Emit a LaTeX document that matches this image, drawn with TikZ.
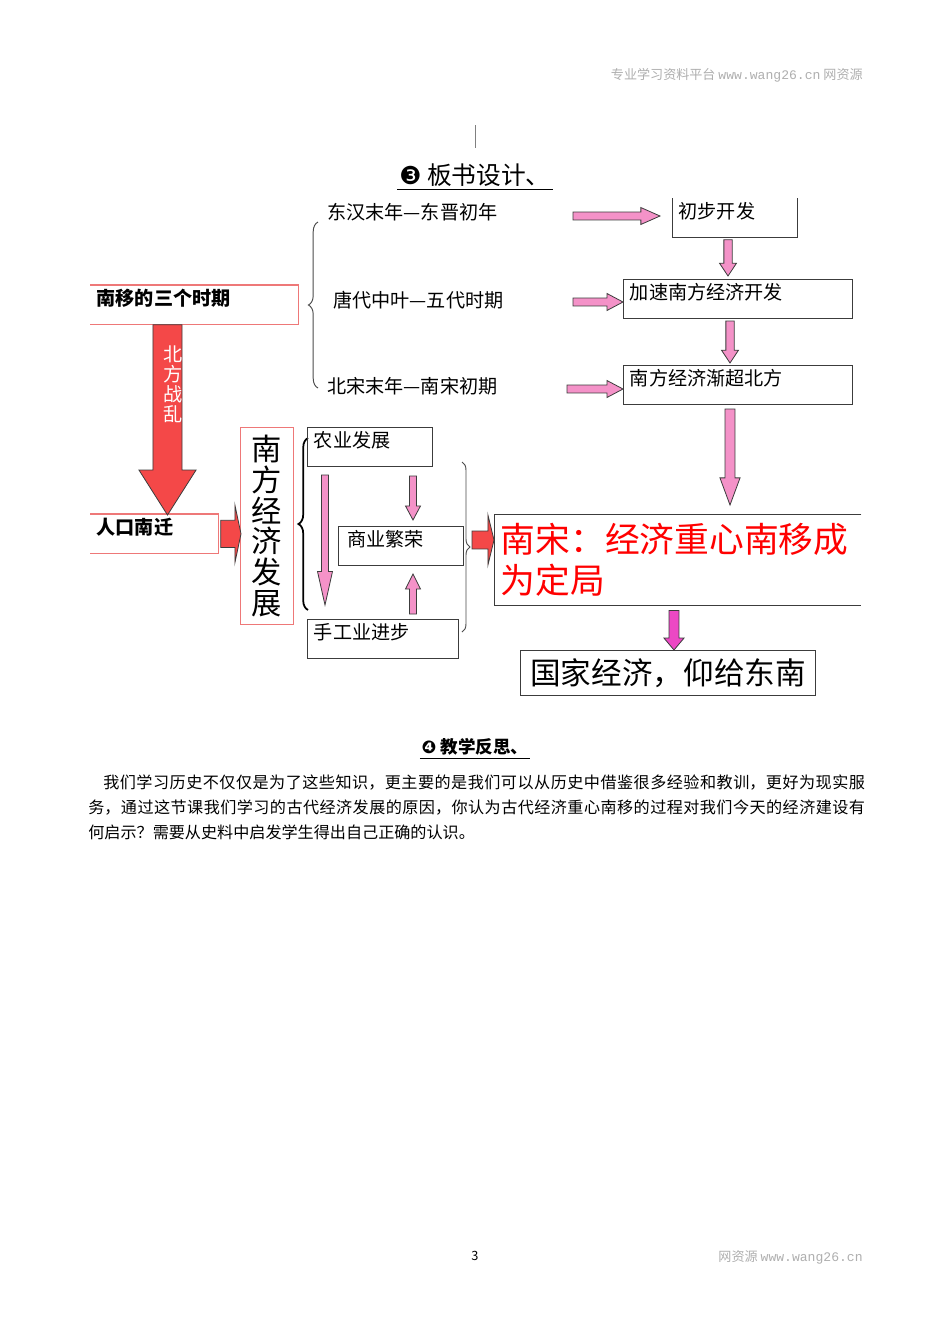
\documentclass[tikz,border=0pt]{standalone}
\usepackage{fontspec}
\setmainfont{Noto Sans CJK SC}
\setmonofont{Liberation Mono}
\newfontfamily\dingfont{DejaVu Sans}
\usetikzlibrary{calc,decorations.pathreplacing}
\XeTeXlinebreaklocale "zh"
\XeTeXlinebreakskip=0pt plus 1pt

\definecolor{pinkfill}{RGB}{244,146,200}
\definecolor{magfill}{RGB}{236,72,196}
\definecolor{redfill}{RGB}{244,72,72}
\definecolor{boxred}{RGB}{238,120,120}
\definecolor{edge}{RGB}{60,60,60}
\definecolor{wmark}{RGB}{175,175,175}

\tikzset{
  blockarrow/.style n args={3}{draw=edge, line width=0.5pt, line join=miter,
    to path={($(\tikztostart)!#1!90:(\tikztotarget)$)
      -- ($(\tikztotarget)!#3!(\tikztostart)!#1!90:(\tikztotarget)$)
      -- ($(\tikztotarget)!#3!(\tikztostart)!#2!90:(\tikztotarget)$)
      -- (\tikztotarget)
      -- ($(\tikztotarget)!#3!(\tikztostart)!#2!-90:(\tikztotarget)$)
      -- ($(\tikztotarget)!#3!(\tikztostart)!#1!-90:(\tikztotarget)$)
      -- ($(\tikztostart)!#1!-90:(\tikztotarget)$) -- cycle}},
  pinkarrow/.style n args={3}{blockarrow={#1}{#2}{#3}, fill=pinkfill},
  magarrow/.style n args={3}{blockarrow={#1}{#2}{#3}, fill=magfill},
  redarrow/.style n args={3}{blockarrow={#1}{#2}{#3}, fill=redfill},
  openbox/.style={anchor=north west, inner xsep=4pt, inner ysep=0pt,
    text height=12.5pt, text depth=12pt, align=left, font=\fontsize{12}{14}\selectfont},
  box/.style={openbox, draw=edge, line width=0.6pt},
  boldbox/.style={openbox, font=\fontsize{12}{14}\selectfont\bfseries},
  period/.style={anchor=west, inner sep=0pt, font=\fontsize{12}{14}\selectfont},
  boxline/.style={draw=edge, line width=0.6pt},
  redline/.style={draw=boxred, line width=0.7pt},
  bracestyle/.style={decorate, decoration={brace, amplitude=#1}},
  wm/.style={anchor=east, inner sep=0pt, text=wmark, font=\fontsize{8.2}{10}\selectfont}
}

\begin{document}
\begin{tikzpicture}[x=0.627pt, y=-0.627pt]
\fill[white] (0,0) rectangle (950,1344);
\useasboundingbox (0,0) rectangle (950,1344);

% page header and footer
\node[wm] (hdr) at (863,75) {专业学习资料平台 \texttt{www.wang26.cn} 网资源};
\node[wm] (ftr) at (863,1257) {网资源 \texttt{www.wang26.cn}};
\node[inner sep=0pt, font=\fontsize{8}{10}\selectfont] (pgno) at (475,1256) {3};
\draw[gray, line width=0.5pt] (475,125) -- (475,148);

% title
\node[inner sep=1pt, font=\fontsize{15.5}{18}\selectfont] (title) at (475,175) {{\dingfont ❸} 板书设计、};
\draw[line width=0.8pt] ($(title.south west)+(0,1)$) -- ($(title.south east)+(0,1)$);

% three periods
\node[period] (p1) at (327,212) {东汉末年—东晋初年};
\node[period] (p2) at (333,300) {唐代中叶—五代时期};
\node[period] (p3) at (327,386) {北宋末年—南宋初期};
\draw[bracestyle=6pt, draw=gray!60!black, line width=0.6pt] (318,388) -- (318,222);

\node[boldbox, text width=122.4pt] (sanqi) at (90,285) {南移的三个时期};
\draw[redline] (sanqi.north west) -- (sanqi.north east) -- (sanqi.south east) -- (sanqi.south west);

% right column
\node[openbox, text width=70.4pt] (chubu) at (672,198) {初步开发};
\draw[boxline] (chubu.north west) -- (chubu.south west) -- (chubu.south east) -- (chubu.north east);
\node[box, text width=135.6pt] (jiasu) at (623,279) {加速南方经济开发};
\node[box, text width=135.6pt] (jianchao) at (623,365) {南方经济渐超北方};

\coordinate (a1) at (573,216);
\coordinate (a2) at (573,302);
\coordinate (a3) at (567,389);
\coordinate (colA) at (728,0);
\coordinate (colB) at (730,0);
\coordinate (colC) at (325,0);
\coordinate (colD) at (413,0);
\coordinate (colE) at (674,0);
\coordinate (colF) at (167.5,0);
\coordinate (rbTip) at (472,540);

\draw[pinkarrow={2.5pt}{5.3pt}{12pt}] (a1) to ($(chubu.west |- a1)+(-12,0)$);
\draw[pinkarrow={2.5pt}{5.3pt}{10pt}] (a2) to (jiasu.west |- a2);
\draw[pinkarrow={2.5pt}{5.3pt}{10pt}] (a3) to (jianchao.west |- a3);
\draw[pinkarrow={2.6pt}{5.3pt}{8pt}] ($(chubu.south -| colA)+(0,2)$) to ($(jiasu.north -| colA)+(0,-3)$);
\draw[pinkarrow={2.6pt}{5.3pt}{8pt}] ($(jiasu.south -| colB)+(0,2)$) to ($(jianchao.north -| colB)+(0,-2)$);

% lower part
\node[boldbox, text width=72.3pt] (renkou) at (90,514) {人口南迁};
\draw[redline] (renkou.north west) -- (renkou.north east) -- (renkou.south east) -- (renkou.south west);
\draw[redarrow={9.1pt}{17.9pt}{28.2pt}] (sanqi.south -| colF) to ($(renkou.north -| colF)+(0,1)$);
\node[inner sep=0pt, anchor=north, align=center, text=white, font=\fontsize{12}{12.6}\selectfont] (zhanluan) at (173,345) {北\\方\\战\\乱};

\node[draw=boxred, line width=0.7pt, anchor=north west, minimum width=33.2pt, minimum height=123.5pt, inner sep=0pt, align=center, font=\fontsize{19}{19.3}\selectfont] (fazhan) at (240,427) {南\\方\\经\\济\\发\\展};
\draw[redarrow={8.5pt}{18pt}{3.8pt}] ($(renkou.east)+(2,0)$) to ($(fazhan.west |- renkou.east)+(1,0)$);

\draw[bracestyle=6pt, line width=1.1pt] (308,610) -- (308,438);
\node[box, text width=70.4pt] (nongye) at (307,427) {农业发展};
\node[box, text width=67.4pt, inner xsep=5.5pt] (shangye) at (338,526) {商业繁荣};
\node[box, text width=86.7pt] (shougong) at (307,619) {手工业进步};
\draw[pinkarrow={2.2pt}{4.7pt}{21pt}] ($(nongye.south -| colC)+(0,8)$) to ($(shougong.north -| colC)+(0,-14)$);
\draw[pinkarrow={2.2pt}{4.7pt}{8.8pt}] ($(nongye.south -| colD)+(0,9)$) to ($(shangye.north -| colD)+(0,-6)$);
\draw[pinkarrow={2.2pt}{4.7pt}{9.4pt}] ($(shougong.north -| colD)+(0,-5)$) to ($(shangye.south -| colD)+(0,8)$);
\draw[bracestyle=5pt, draw=gray!60!black, line width=0.6pt] (462,462) -- (462,632);

\node[anchor=north west, inner xsep=4pt, inner ysep=0pt, text width=222pt, minimum height=57pt, align=left, text=red, font=\fontsize{21.8}{26.3}\selectfont] (big) at (494,514) {南宋：经济重心南移成\\为定局};
\draw[boxline] (big.north east) -- (big.north west) -- (big.south west) -- (big.south east);
\draw[redarrow={5.6pt}{15.7pt}{3.8pt}] (rbTip) to (big.west |- rbTip);
\draw[pinkarrow={3.1pt}{6.3pt}{17pt}] ($(jianchao.south -| colB)+(0,4)$) to ($(big.north -| colB)+(0,-9)$);

\node[draw=edge, line width=0.8pt, anchor=north west, minimum width=185pt, minimum height=28.2pt, inner sep=0pt, font=\fontsize{19.2}{22}\selectfont] (guojia) at (520,650) {国家经济，仰给东南};
\draw[magarrow={3.1pt}{6.3pt}{7.5pt}] ($(big.south -| colE)+(0,5)$) to (guojia.north -| colE);

% reflection
\node[inner sep=1pt, font=\fontsize{11}{13}\selectfont\bfseries] (fansi) at (475,747) {{\dingfont ❹} 教学反思、};
\draw[line width=0.7pt] ($(fansi.south west)+(0,1)$) -- ($(fansi.south east)+(0,1)$);
\node[anchor=north west, inner sep=0pt, text width=487pt, align=justify, font=\fontsize{10.1}{15.7}\selectfont] (para) at (88,774) {\hspace*{9.4pt}我们学习历史不仅仅是为了这些知识，更主要的是我们可以从历史中借鉴很多经验和教训，更好为现实服\linebreak 务，通过这节课我们学习的古代经济发展的原因，你认为古代经济重心南移的过程对我们今天的经济建设有\linebreak 何启示？需要从史料中启发学生得出自己正确的认识。};
\end{tikzpicture}
\end{document}
